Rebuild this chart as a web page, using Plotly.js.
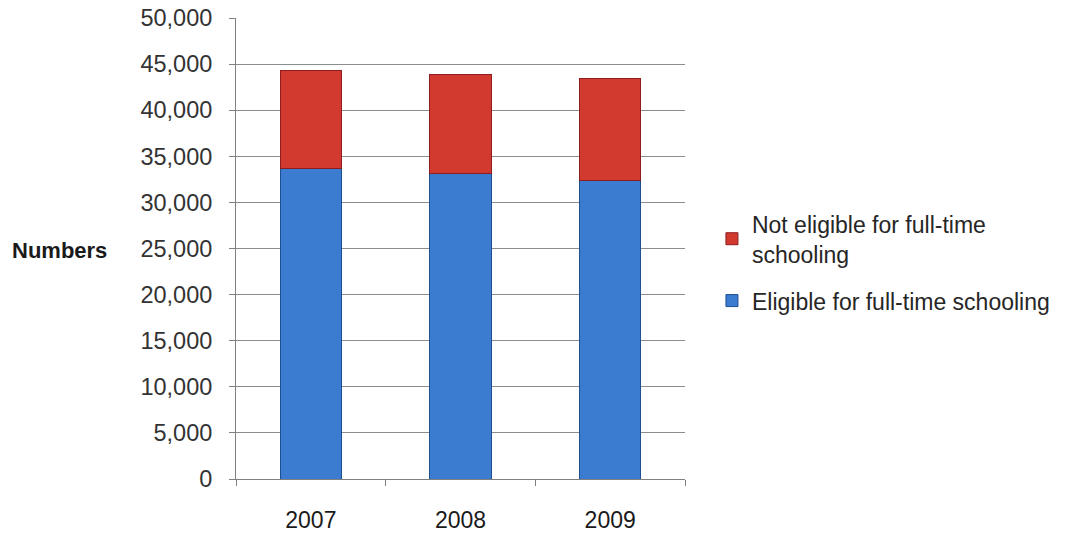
<!DOCTYPE html>
<html>
<head>
<meta charset="utf-8">
<script src="https://cdn.plot.ly/plotly-3.0.1.min.js"></script>
<style>html,body{margin:0;padding:0;background:#fff;}#chart{width:1074px;height:535px;}</style>
</head>
<body>
<div id="chart"></div>
<script>
var years = ["2007", "2008", "2009"];
var eligible = [33700, 33150, 32400];
var notEligible = [10650, 10750, 11000];
var seriesNames = ["Eligible for full-time schooling", "Not eligible for full-time<br>schooling"];
var yTicks = [0, 5000, 10000, 15000, 20000, 25000, 30000, 35000, 40000, 45000, 50000];

var FONT = "Liberation Sans, Arial, sans-serif";

var traces = [
  {
    type: "bar", name: seriesNames[0], x: years, y: eligible, legendgroup: "g1", legendrank: 2,
    marker: {color: "#3b7bd0", line: {color: "#1e4f90", width: 1}}
  },
  {
    type: "bar", name: seriesNames[1], x: years, y: notEligible, legendgroup: "g2", legendrank: 1,
    marker: {color: "#d23a30", line: {color: "#8e1d1d", width: 1}}
  }
];

var layout = {
  width: 1074, height: 535,
  margin: {l: 236, r: 389, t: 18, b: 56},
  paper_bgcolor: "#ffffff", plot_bgcolor: "#ffffff",
  barmode: "stack", bargap: 0.59,
  showlegend: true,
  legend: {
    x: 1.06, y: 0.47, xanchor: "left", yanchor: "middle",
    traceorder: "grouped",
    font: {family: FONT, size: 23, color: "#262626"},
    itemwidth: 30, tracegroupgap: 14
  },
  xaxis: {
    type: "category",
    showline: true, linecolor: "#808080", linewidth: 1,
    ticks: "outside", tickson: "boundaries", ticklen: 6, tickcolor: "#808080",
    ticklabelstandoff: 20,
    tickfont: {family: FONT, size: 23, color: "#1a1a1a"},
    showgrid: false, zeroline: false
  },
  yaxis: {
    range: [0, 50000],
    tickvals: yTicks,
    tickformat: ",d",
    showline: true, linecolor: "#808080", linewidth: 1,
    ticks: "outside", ticklen: 6, tickcolor: "#808080",
    ticklabelstandoff: 12,
    tickfont: {family: FONT, size: 23.5, color: "#333333"},
    showgrid: true, gridcolor: "#8c8c8c", gridwidth: 1,
    zeroline: false
  },
  annotations: [{
    text: "<b>Numbers</b>", xref: "paper", yref: "paper",
    x: -0.503, y: 0.495, xanchor: "left", yanchor: "middle",
    showarrow: false, font: {family: FONT, size: 22, color: "#1a1a1a"}
  }]
};

Plotly.newPlot("chart", traces, layout, {displayModeBar: false, staticPlot: true});
</script>
</body>
</html>
